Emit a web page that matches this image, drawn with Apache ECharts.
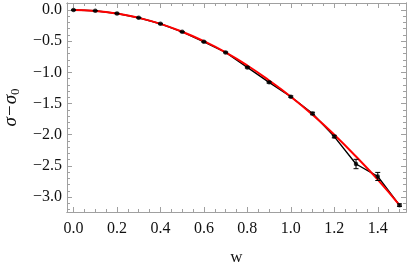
<!DOCTYPE html>
<html><head><meta charset="utf-8">
<script src="https://cdn.jsdelivr.net/npm/echarts@6/dist/echarts.min.js"></script>
<style>html,body{margin:0;padding:0;background:#fff}#c{width:407px;height:267px}</style>
</head><body><div id="c"></div><script>
// data
const w = [0, 0.1, 0.2, 0.3, 0.4, 0.5, 0.6, 0.7, 0.8, 0.9, 1.0, 1.1, 1.2, 1.3, 1.4, 1.5];
const sigma = [0, -0.011, -0.055, -0.124, -0.22, -0.35, -0.51, -0.68, -0.92, -1.16, -1.39, -1.66, -2.03, -2.47, -2.67, -3.13];
const sigmaErr = [0.004, 0.004, 0.005, 0.005, 0.006, 0.006, 0.008, 0.008, 0.01, 0.012, 0.012, 0.02, 0.02, 0.075, 0.065, 0.02];
const fitW = [0, 0.1, 0.2, 0.3, 0.4, 0.5, 0.6, 0.7, 0.8, 0.9, 1.0, 1.1, 1.2, 1.3, 1.4, 1.5];
const fitVal = [0, -0.014, -0.056, -0.125, -0.222, -0.348, -0.50, -0.68, -0.89, -1.13, -1.39, -1.68, -2.00, -2.35, -2.72, -3.13];
const xTicks = [0, 0.2, 0.4, 0.6, 0.8, 1.0, 1.2, 1.4];
const yTicks = [0, -0.5, -1.0, -1.5, -2.0, -2.5, -3.0];

const xMinor = [];
for (let i = 0; i <= 30; i++) { if (i % 4 !== 0) xMinor.push(+(i * 0.05).toFixed(2)); }
const yMinor = [];
for (let i = 1; i <= 32; i++) { if (i % 5 !== 0) yMinor.push(-+(i * 0.1).toFixed(1)); }

const XMIN = -0.03, XMAX = 1.53, YMIN = -3.24, YMAX = 0.113;
const axCol = '#a0a0a0';
const font = 'Liberation Serif';

function xAx(pos, ticks, len, labels) {
  return {
    type: 'value', position: pos, min: XMIN, max: XMAX,
    axisLine: { show: true, onZero: false, lineStyle: { color: axCol, width: 1 } },
    axisTick: { show: true, inside: true, length: len, customValues: ticks, lineStyle: { color: axCol } },
    axisLabel: labels ? { show: true, customValues: ticks, color: '#111', fontFamily: font, fontSize: 16, margin: 9,
      formatter: v => v.toFixed(1) } : { show: false },
    splitLine: { show: false }
  };
}
function yAx(pos, ticks, len, labels) {
  return {
    type: 'value', position: pos, min: YMIN, max: YMAX,
    axisLine: { show: true, onZero: false, lineStyle: { color: axCol, width: 1 } },
    axisTick: { show: true, inside: true, length: len, customValues: ticks, lineStyle: { color: axCol } },
    axisLabel: labels ? { show: true, customValues: ticks, color: '#111', fontFamily: font, fontSize: 16, margin: 5,
      formatter: v => (Math.abs(v) < 1e-9 ? '0.0' : '\u2212' + Math.abs(v).toFixed(1)) } : { show: false },
    splitLine: { show: false }
  };
}

const xa0 = xAx('bottom', xTicks, 5, true);
xa0.name = 'w'; xa0.nameLocation = 'middle'; xa0.nameGap = 37;
xa0.nameTextStyle = { fontFamily: font, fontSize: 17, color: '#111' };
const ya0 = yAx('left', yTicks, 5, true);
ya0.name = '{a|\u03C3\u2212\u03C3}{b|0}'; ya0.nameLocation = 'middle'; ya0.nameGap = 44; ya0.nameRotate = 90;
ya0.nameTextStyle = { rich: {
  a: { fontFamily: font, fontSize: 19, fontStyle: 'italic', color: '#111' },
  b: { fontFamily: font, fontSize: 13, color: '#111', padding: [9, 0, 0, 0] } } };

const pts = w.map((x, i) => [x, sigma[i]]);
const fitPts = fitW.map((x, i) => [x, fitVal[i]]);
const errData = w.map((x, i) => [x, sigma[i], sigmaErr[i]]);

const chart = echarts.init(document.getElementById('c'), null, { renderer: 'canvas' });
chart.setOption({
  animation: false,
  backgroundColor: '#fff',
  grid: { left: 67, right: 1, top: 3, bottom: 55, containLabel: false, outerBoundsMode: 'none' },
  xAxis: [xa0, xAx('bottom', xMinor, 3, false), xAx('top', xTicks, 5, false), xAx('top', xMinor, 3, false)],
  yAxis: [ya0, yAx('left', yMinor, 3, false), yAx('right', yTicks, 5, false), yAx('right', yMinor, 3, false)],
  series: [
    { type: 'line', data: pts, showSymbol: false, symbol: 'none', lineStyle: { color: '#000', width: 1.4 }, z: 2 },
    { type: 'line', data: fitPts, smooth: true, showSymbol: false, symbol: 'none', lineStyle: { color: '#ff0000', width: 2 }, z: 3 },
    { type: 'custom', data: errData, z: 4,
      renderItem: (params, api) => {
        const x = api.value(0), y = api.value(1), e = api.value(2);
        const top = api.coord([x, y + e]), bot = api.coord([x, y - e]);
        const hw = 2.5;
        return { type: 'group', children: [
          { type: 'line', shape: { x1: top[0], y1: top[1], x2: bot[0], y2: bot[1] }, style: { stroke: '#000', lineWidth: 1 } },
          { type: 'line', shape: { x1: top[0] - hw, y1: top[1], x2: top[0] + hw, y2: top[1] }, style: { stroke: '#000', lineWidth: 1 } },
          { type: 'line', shape: { x1: bot[0] - hw, y1: bot[1], x2: bot[0] + hw, y2: bot[1] }, style: { stroke: '#000', lineWidth: 1 } }
        ] };
      } },
    { type: 'scatter', data: pts, symbol: 'circle', symbolSize: 4.5, itemStyle: { color: '#000' }, z: 5 }
  ]
});
</script></body></html>
